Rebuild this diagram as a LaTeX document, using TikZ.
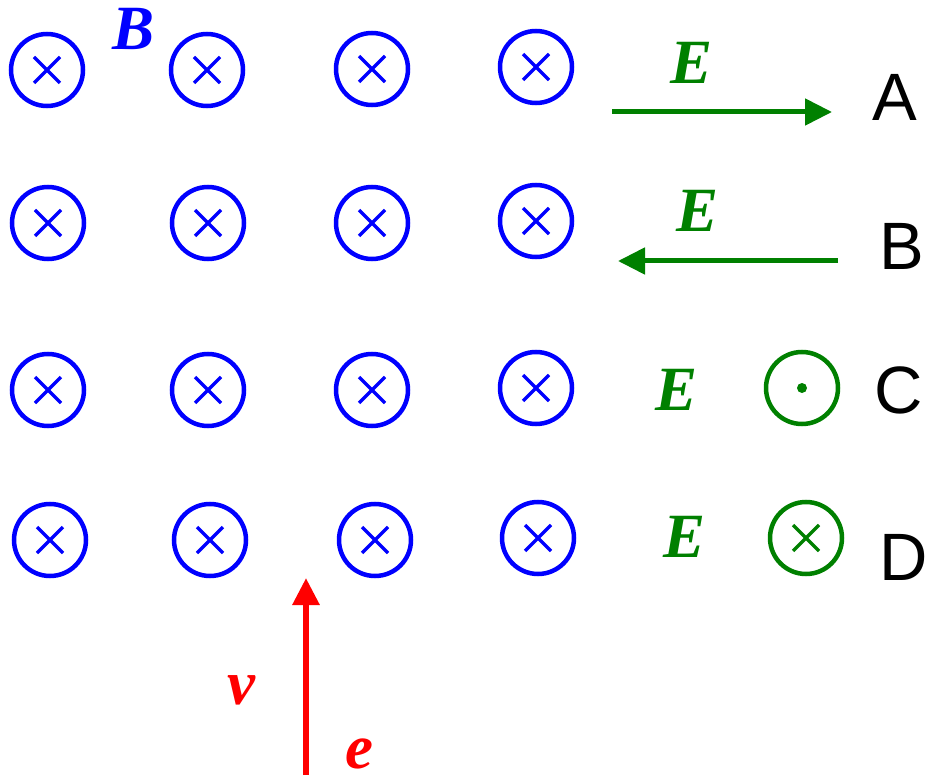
\documentclass[tikz,border=0pt]{standalone}
\usepackage{fontspec}
\setmainfont{Liberation Serif}
\newfontfamily\arialf{Liberation Sans}
\usetikzlibrary{arrows.meta}
\definecolor{bblue}{RGB}{0,0,255}
\definecolor{ggreen}{RGB}{0,128,0}
\definecolor{rred}{RGB}{255,0,0}
\tikzset{
  fieldc/.style={circle,draw=#1,line width=4.5pt,minimum size=72pt,inner sep=0pt},
  crossc/.style={fieldc=#1,path picture={
      \draw[#1,line width=3.3pt]
        ([shift={(-13pt,-13pt)}]path picture bounding box.center) --
        ([shift={(13pt,13pt)}]path picture bounding box.center)
        ([shift={(-13pt,13pt)}]path picture bounding box.center) --
        ([shift={(13pt,-13pt)}]path picture bounding box.center);}},
  dotc/.style={fieldc=#1,path picture={
      \fill[#1] (path picture bounding box.center) circle (5pt);}},
  symlab/.style={text=#1,inner sep=0pt,font=\fontsize{63}{63}\selectfont\bfseries\itshape},
  optlab/.style={inner sep=0pt,font=\fontsize{67}{67}\selectfont\arialf},
  earrow/.style={draw=ggreen,line width=5pt,-{Triangle[length=27pt,width=26pt]}},
}
\begin{document}
\begin{tikzpicture}[x=1pt,y=-1pt]
\useasboundingbox (0,0) rectangle (932,778);
% magnetic field crosses
\node[crossc=bblue] (b11) at (47,70) {};
\node[crossc=bblue] (b12) at (207,70) {};
\node[crossc=bblue] (b13) at (372,69) {};
\node[crossc=bblue] (b14) at (536,67) {};
\node[crossc=bblue] (b21) at (48,223) {};
\node[crossc=bblue] (b22) at (208,223) {};
\node[crossc=bblue] (b23) at (372,223) {};
\node[crossc=bblue] (b24) at (536,221) {};
\node[crossc=bblue] (b31) at (48,390) {};
\node[crossc=bblue] (b32) at (208,390) {};
\node[crossc=bblue] (b33) at (372,390) {};
\node[crossc=bblue] (b34) at (536,388) {};
\node[crossc=bblue] (b41) at (50,540) {};
\node[crossc=bblue] (b42) at (210,540) {};
\node[crossc=bblue] (b43) at (375,540) {};
\node[crossc=bblue] (b44) at (538,538) {};
\node[symlab=bblue] (Blab) at (134,29) {B};
% option A
\node[symlab=ggreen] (EA) at (692,63) {E};
\coordinate (a1) at (612,112);
\coordinate (a2) at (832,112);
\draw[earrow] (a1) -- (a2);
\node[optlab] (A) at (895,97) {A};
% option B
\node[symlab=ggreen] (EB) at (698,211) {E};
\coordinate (bb1) at (838,261);
\coordinate (bb2) at (618,261);
\draw[earrow] (bb1) -- (bb2);
\node[optlab] (Bo) at (902,246) {B};
% option C
\node[symlab=ggreen] (EC) at (677,390) {E};
\node[dotc=ggreen] (gC) at (802,388) {};
\node[optlab] (C) at (899,390) {C};
% option D
\node[symlab=ggreen] (ED) at (685,537) {E};
\node[crossc=ggreen] (gD) at (806,538) {};
\node[optlab] (D) at (904,557) {D};
% electron velocity
\coordinate (v1) at (306,775);
\coordinate (v2) at (306,578);
\draw[draw=rred,line width=6pt,-{Triangle[length=27pt,width=26pt]}] (v1) -- (v2);
\node[symlab=rred] (vlab) at (241,690) {v};
\node[symlab=rred] (elab) at (359,754) {e};
\end{tikzpicture}
\end{document}
